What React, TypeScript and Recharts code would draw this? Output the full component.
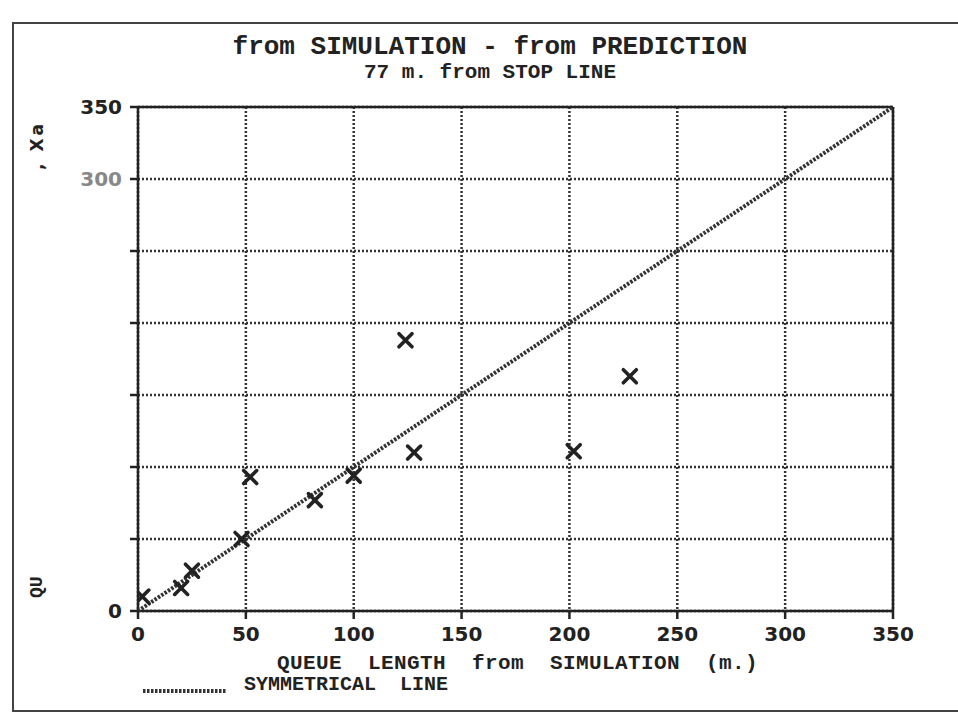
import React from 'react';
import { ScatterChart, Scatter, XAxis, YAxis, CartesianGrid, ReferenceLine } from 'recharts';

// Queue length from simulation (x) vs. from prediction (y), metres
const simulated = [2, 20, 25, 48, 52, 82, 100, 124, 128, 202, 228];
const predicted = [10, 16, 28, 50, 93, 77, 94, 188, 110, 111, 163];
// Symmetrical (y = x) line end points
const symX = [0, 350];
const symY = [0, 350];
const axisTicks = [0, 50, 100, 150, 200, 250, 300, 350];
const yTickLabelsShown = [0, 300, 350];

const titleText = 'from SIMULATION - from PREDICTION';
const subtitleText = '77 m. from STOP LINE';
const xLabelText = 'QUEUE  LENGTH  from  SIMULATION  (m.)';
const legendText = 'SYMMETRICAL  LINE';

const ink = '#222';
const mono = '"Liberation Mono", "DejaVu Sans Mono", monospace';
const sans = '"DejaVu Sans", Verdana, sans-serif';

const points = simulated.map((x, i) => ({ x, y: predicted[i] }));
const symPoints = symX.map((x, i) => ({ x, y: symY[i] }));

const Cross = (props: any) => {
  const { cx, cy } = props;
  const s = 6.5;
  return (
    <g stroke={ink} strokeWidth={3.6} strokeLinecap="round">
      <line x1={cx - s} y1={cy - s} x2={cx + s} y2={cy + s} />
      <line x1={cx - s} y1={cy + s} x2={cx + s} y2={cy - s} />
    </g>
  );
};

const NoShape = () => <g />;

const YTick = (props: any) => {
  const { x, y, payload } = props;
  if (!yTickLabelsShown.includes(payload.value)) return <g />;
  return (
    <text x={x} y={y} dy={7} textAnchor="end" fontSize={20} fontWeight="bold" fontFamily={sans} fill={payload.value === 300 ? '#888' : ink}>
      {payload.value}
    </text>
  );
};

const XTick = (props: any) => {
  const { x, y, payload } = props;
  return (
    <text x={x} y={y} dy={20} textAnchor="middle" fontSize={20} fontWeight="bold" fontFamily={sans} fill={ink}>
      {payload.value}
    </text>
  );
};

export default function App() {
  return (
    <div style={{ position: 'absolute', left: 0, top: 0, width: 958, height: 721, background: '#fff', overflow: 'hidden' }}>
      <div style={{ position: 'absolute', left: 12, top: 22, width: 960, height: 690, border: '2px solid #444', boxSizing: 'border-box' }} />
      <div style={{ position: 'absolute', left: 0, width: 980, top: 32, textAlign: 'center', fontFamily: mono, fontWeight: 'bold', fontSize: 26, color: ink, lineHeight: '30px' }}>
        {titleText}
      </div>
      <div style={{ position: 'absolute', left: 0, width: 980, top: 61, textAlign: 'center', fontFamily: mono, fontWeight: 'bold', fontSize: 21, color: ink, lineHeight: '24px' }}>
        {subtitleText}
      </div>
      <ScatterChart width={958} height={721} margin={{ top: 107, right: 65, bottom: 80, left: 78 }} style={{ position: 'absolute', left: 0, top: 0 }}>
        <CartesianGrid stroke="#333" strokeWidth={2.5} strokeDasharray="2 2" horizontalValues={axisTicks} verticalValues={axisTicks} />
        <XAxis type="number" dataKey="x" domain={[0, 350]} ticks={axisTicks} height={30} stroke={ink} strokeWidth={2.5} tickSize={8} tick={<XTick />} interval={0} allowDataOverflow />
        <YAxis type="number" dataKey="y" domain={[0, 350]} ticks={axisTicks} width={60} stroke={ink} strokeWidth={2.5} tickSize={8} tickMargin={8} tick={<YTick />} interval={0} allowDataOverflow />
        <ReferenceLine y={350} stroke={ink} strokeWidth={2.5} />
        <ReferenceLine x={350} stroke={ink} strokeWidth={2.5} />
        <Scatter data={symPoints} line={{ stroke: '#333', strokeWidth: 4, strokeDasharray: '2.5 1.5' }} shape={NoShape} isAnimationActive={false} legendType="none" />
        <Scatter data={points} shape={Cross} isAnimationActive={false} legendType="none" />
      </ScatterChart>
      <div style={{ position: 'absolute', left: 277, top: 652, fontFamily: mono, fontWeight: 'bold', fontSize: 21, letterSpacing: 0.4, whiteSpace: 'pre', color: ink, lineHeight: '24px' }}>
        {xLabelText}
      </div>
      <svg style={{ position: 'absolute', left: 140, top: 685 }} width={90} height={12}>
        <line x1={3} y1={6} x2={86} y2={6} stroke="#333" strokeWidth={4} strokeDasharray="2.5 1.5" />
      </svg>
      <div style={{ position: 'absolute', left: 244, top: 673, fontFamily: mono, fontWeight: 'bold', fontSize: 20, whiteSpace: 'pre', color: ink, lineHeight: '24px' }}>
        {legendText}
      </div>
      <div style={{ position: 'absolute', left: 26, top: 598, transform: 'rotate(-90deg)', transformOrigin: '0 0', fontFamily: mono, fontWeight: 'bold', fontSize: 18, color: ink, whiteSpace: 'pre', lineHeight: '22px' }}>
        QU
      </div>
      <div style={{ position: 'absolute', left: 26, top: 170, transform: 'rotate(-90deg)', transformOrigin: '0 0', fontFamily: sans, fontWeight: 'bold', fontSize: 17, color: ink, whiteSpace: 'pre', lineHeight: '22px', letterSpacing: 3 }}>
        {', Xa'}
      </div>
    </div>
  );
}
